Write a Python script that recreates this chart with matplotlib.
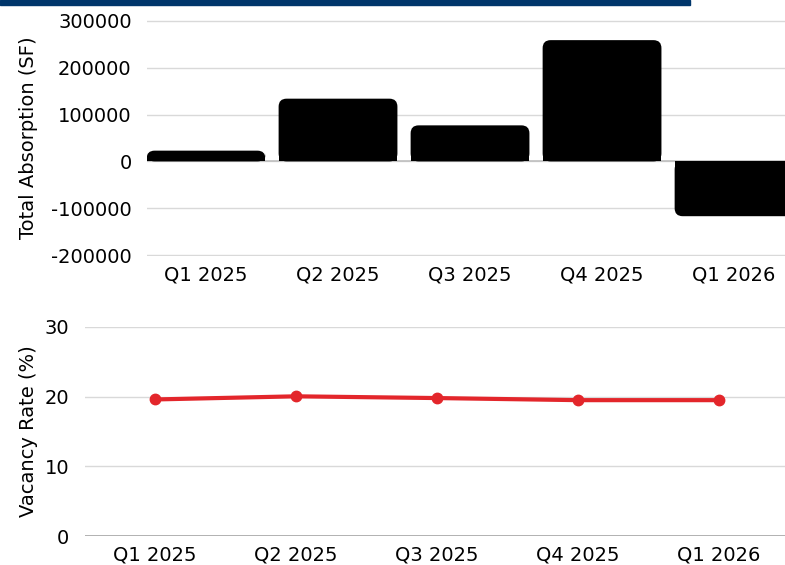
import matplotlib
matplotlib.use("Agg")
import matplotlib.pyplot as plt
from matplotlib.patches import FancyBboxPatch, Rectangle

quarters = ["Q1 2025", "Q2 2025", "Q3 2025", "Q4 2025", "Q1 2026"]
absorption = [23000, 134000, 77000, 259000, -117000]
vacancy = [19.6, 20.05, 19.8, 19.5, 19.5]

plt.rcParams.update({
    "font.family": "DejaVu Sans",
    "font.size": 14,
    "axes.edgecolor": "#d9d9d9",
})

fig = plt.figure(figsize=(7.85, 5.65), dpi=100)
fig.patches.append(Rectangle((0, 1 - 5 / 565), 690 / 785, 5 / 565,
                             transform=fig.transFigure, color="#00366b", zorder=5))

# --- absorption bars ---
ax1 = fig.add_axes([147 / 785, 1 - 256 / 565, 1 - 147 / 785, (256 - 20) / 565])
ax1.set_xlim(-0.447, 4.386)
ax1.set_ylim(-202000, 302000)
ax1.set_yticks([-200000, -100000, 0, 100000, 200000, 300000])
ax1.set_yticklabels(["-200000", "-100000", "0", "100000", "200000", "300000"])
ax1.set_xticks(range(len(quarters)))
ax1.set_xticklabels(quarters)
ax1.grid(axis="y", color="#d9d9d9", linewidth=1)
ax1.set_axisbelow(True)
for s in ax1.spines.values():
    s.set_visible(False)
ax1.tick_params(length=0, pad=7)
ax1.tick_params(axis="y", pad=11)
ax1.set_ylabel("Total Absorption (SF)", labelpad=9)

# rounded outer corners: size the rounding in pixels
fig.canvas.draw()
bb = ax1.get_window_extent()
px_x = bb.width / (4.386 + 0.447)
px_y = bb.height / 504000
radius_px = 8
bw = 0.9
for i, v in enumerate(absorption):
    lo, hi = min(0, v), max(0, v)
    box = FancyBboxPatch((i - bw / 2, lo), bw, hi - lo,
                         boxstyle=f"round,pad=0,rounding_size={radius_px / px_x}",
                         mutation_aspect=px_x / px_y,
                         facecolor="black", edgecolor="none", zorder=3)
    ax1.add_patch(box)
# square off the corners at the zero baseline
ax1.bar(range(len(quarters)), [v / 2 for v in absorption], width=bw,
        color="black", zorder=3)
ax1.axhline(0, color="#bfbfbf", linewidth=1.2, zorder=2)

# --- vacancy line ---
ax2 = fig.add_axes([84.5 / 785, 1 - 536 / 565, 705 / 785, (536 - 327) / 565])
ax2.set_xlim(-0.5, 4.5)
ax2.set_ylim(0, 30)
ax2.set_yticks([0, 10, 20, 30])
ax2.set_xticks(range(len(quarters)))
ax2.set_xticklabels(quarters)
ax2.grid(axis="y", color="#d9d9d9", linewidth=1)
ax2.set_axisbelow(True)
for s in ax2.spines.values():
    s.set_visible(False)
ax2.axhline(0, color="#a6a6a6", linewidth=1.2, zorder=2)
ax2.tick_params(length=0, pad=7)
ax2.tick_params(axis="y", pad=11)
ax2.plot(range(len(quarters)), vacancy, color="#e3262b", linewidth=3,
         marker="o", markersize=7.5, zorder=3, solid_capstyle="round")
ax2.set_ylabel("Vacancy Rate (%)", labelpad=5)

fig.savefig("out.png", dpi=100)
